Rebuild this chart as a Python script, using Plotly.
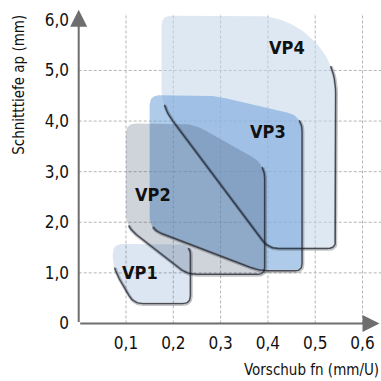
import numpy as np
import plotly.graph_objects as go

# ---------------- data ----------------
x_tick_vals = [0.1, 0.2, 0.3, 0.4, 0.5, 0.6]
x_tick_text = ["0,1", "0,2", "0,3", "0,4", "0,5", "0,6"]
y_tick_vals = [0, 1, 2, 3, 4, 5, 6]
y_tick_text = ["0", "1,0", "2,0", "3,0", "4,0", "5,0", "6,0"]

region_names = ["VP4", "VP3", "VP2", "VP1"]
# outline vertices of each application area (feed fn in mm/U, depth ap in mm)
vp4_fn = [0.175, 0.440, 0.542, 0.542, 0.400, 0.175]
vp4_ap = [6.08, 6.08, 5.20, 1.50, 1.50, 4.30]
vp3_fn = [0.150, 0.284, 0.471, 0.471, 0.380, 0.150]
vp3_ap = [4.51, 4.51, 4.10, 1.06, 1.06, 1.88]
vp2_fn = [0.100, 0.242, 0.392, 0.392, 0.228, 0.100]
vp2_ap = [3.95, 3.95, 3.16, 0.99, 0.99, 1.92]
vp1_fn = [0.072, 0.235, 0.235, 0.115, 0.072]
vp1_ap = [1.57, 1.57, 0.41, 0.41, 1.10]
# label anchor positions
label_fn = [0.440, 0.400, 0.157, 0.130]
label_ap = [5.45, 3.80, 2.54, 1.00]

x_title = "Vorschub fn (mm/U)"
y_title = "Schnitttiefe ap (mm)"

# ---------------- styling ----------------
FONT = "Liberation Sans Narrow, Arial Narrow, DejaVu Sans Condensed, Liberation Sans, sans-serif"
SX, SY = 473.0, 50.6  # approx px per data unit (for isotropic rounding)
styles = {
    "VP4": dict(fill="rgba(195,213,234,0.55)", radii=[10, 32, 32, 8, 10, 18], shadow=(2, 5)),
    "VP3": dict(fill="rgba(115,166,218,0.58)", radii=[10, 14, 14, 7, 9, 12], shadow=(2, 5)),
    "VP2": dict(fill="rgba(36,55,86,0.22)", radii=[10, 14, 14, 7, 9, 12], shadow=(2, 5)),
    "VP1": dict(fill="rgba(22,88,168,0.15)", radii=[10, 10, 8, 9, 12], shadow=(1, 4)),
}
shapes_data = {"VP4": (vp4_fn, vp4_ap), "VP3": (vp3_fn, vp3_ap),
               "VP2": (vp2_fn, vp2_ap), "VP1": (vp1_fn, vp1_ap)}


def rounded_corners(xs, ys, radii, n=14):
    P = np.column_stack([np.asarray(xs) * SX, np.asarray(ys) * SY])
    N = len(P)
    curves = []
    t = np.linspace(0, 1, n)[:, None]
    for i in range(N):
        p0, p1, p2 = P[i - 1], P[i], P[(i + 1) % N]
        v1, v2 = p0 - p1, p2 - p1
        l1, l2 = np.linalg.norm(v1), np.linalg.norm(v2)
        d = min(radii[i], 0.5 * l1, 0.5 * l2)
        a = p1 + v1 / l1 * d
        b = p1 + v2 / l2 * d
        pts = (1 - t) ** 2 * a + 2 * (1 - t) * t * p1 + t ** 2 * b
        curves.append(pts / np.array([SX, SY]))
    return curves


fig = go.Figure()

# gridlines
grid_shapes = []
for xv in x_tick_vals:
    grid_shapes.append(dict(type="line", xref="x", yref="y", x0=xv, x1=xv, y0=0, y1=6.13,
                            line=dict(color="#b5b5b5", width=1, dash="3px,2px"), layer="below"))
for yv in y_tick_vals[1:-1]:
    grid_shapes.append(dict(type="line", xref="x", yref="y", x0=0, x1=0.64, y0=yv, y1=yv,
                            line=dict(color="#b5b5b5", width=1, dash="3px,2px"), layer="below"))

all_curves = {}
for name in region_names:
    fx, fy = shapes_data[name]
    curves = rounded_corners(fx, fy, styles[name]["radii"])
    all_curves[name] = curves
    pts = np.vstack(curves + [curves[0][:1]])
    fig.add_trace(go.Scatter(x=pts[:, 0], y=pts[:, 1], mode="lines", fill="toself",
                             fillcolor=styles[name]["fill"], line=dict(width=0),
                             hoverinfo="skip", showlegend=False))

# shadows on lower/right edges
for name in region_names:
    curves = all_curves[name]
    s, e = styles[name]["shadow"]
    n = len(curves[0])
    seg = [curves[s][n // 2:]] + [curves[k] for k in range(s + 1, e)] + [curves[e][: n // 2 + 1]]
    pts = np.vstack(seg)
    for dxp, dyp, w, col in [(1.2, 1.6, 3.4, "rgba(20,25,35,0.25)"), (0.6, 0.9, 1.4, "rgba(20,25,35,0.70)")]:
        fig.add_trace(go.Scatter(x=pts[:, 0] + dxp / SX, y=pts[:, 1] - dyp / SY, mode="lines",
                                 line=dict(color=col, width=w), hoverinfo="skip", showlegend=False))

# labels
annotations = []
for name, lx, ly in zip(region_names, label_fn, label_ap):
    annotations.append(dict(x=lx, y=ly, xref="x", yref="y", text=f"<b>{name}</b>", showarrow=False,
                            font=dict(family=FONT, size=18, color="#111111")))

# axes with arrows
annotations.append(dict(x=0.636, y=0, xref="x", yref="y", ax=0, ay=0, axref="x", ayref="y",
                        text="", showarrow=True, arrowhead=2, arrowsize=1.7, arrowwidth=2,
                        arrowcolor="#6e6e6e", standoff=0))
annotations.append(dict(x=0, y=6.2, xref="x", yref="y", ax=0, ay=0, axref="x", ayref="y",
                        text="", showarrow=True, arrowhead=2, arrowsize=1.7, arrowwidth=2,
                        arrowcolor="#6e6e6e", standoff=0))
# axis titles (paper coordinates)
annotations.append(dict(x=-0.162, y=0.975, xref="paper", yref="paper", text=y_title, textangle=-90,
                        showarrow=False, xanchor="center", yanchor="top",
                        font=dict(family=FONT, size=15, color="#111111")))
annotations.append(dict(x=1.0, y=-0.12, xref="paper", yref="paper", text=x_title,
                        showarrow=False, xanchor="right", yanchor="middle",
                        font=dict(family=FONT, size=15, color="#111111")))

fig.update_layout(
    width=381, height=381,
    margin=dict(l=70, r=0, t=5, b=50, autoexpand=False),
    paper_bgcolor="white", plot_bgcolor="white",
    shapes=grid_shapes, annotations=annotations,
    xaxis=dict(range=[-0.0184, 0.6391], showgrid=False, zeroline=False, showline=False,
               automargin=False, tickvals=x_tick_vals, ticktext=x_tick_text, ticks="",
               tickfont=dict(family=FONT, size=17, color="#111111")),
    yaxis=dict(range=[-0.149, 6.294], showgrid=False, zeroline=False, showline=False,
               automargin=False, tickvals=y_tick_vals, ticktext=y_tick_text, ticks="",
               tickfont=dict(family=FONT, size=17, color="#111111")),
)

fig.write_html("out.html", config={"displayModeBar": False},
               post_script="document.body.style.margin='0';document.body.style.padding='0';")
